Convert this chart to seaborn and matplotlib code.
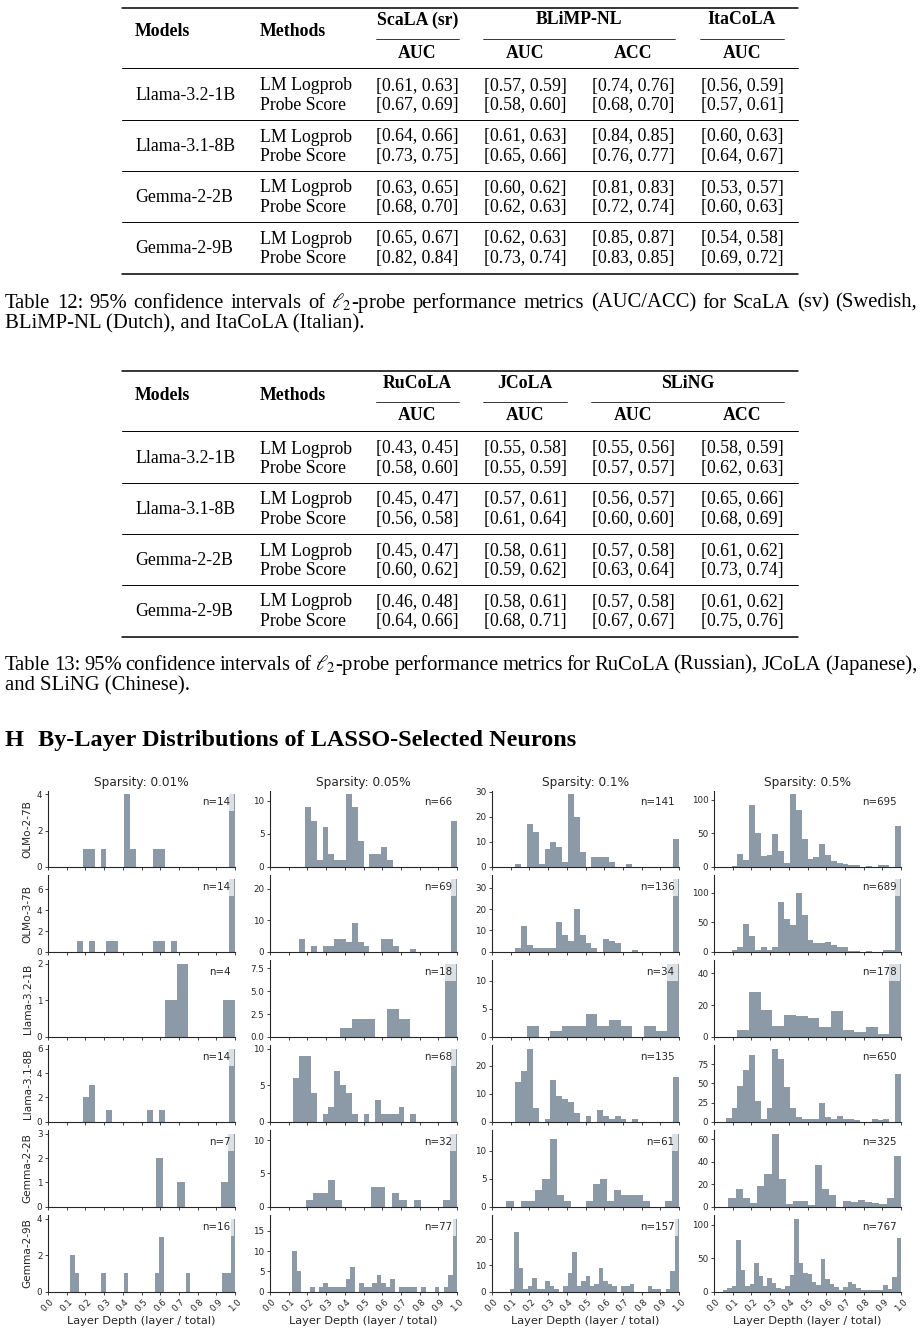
import numpy as np
import pandas as pd
import matplotlib
matplotlib.use("Agg")
import matplotlib.pyplot as plt
import seaborn as sns
from matplotlib.lines import Line2D
from matplotlib.ticker import MaxNLocator, MultipleLocator

# ---------------- Table 12 data ----------------
t_models = ["Llama-3.2-1B", "Llama-3.1-8B", "Gemma-2-2B", "Gemma-2-9B"]
t_methods = ["LM Logprob", "Probe Score"]
t12_datasets = ["ScaLA (sr)", "BLiMP-NL", "ItaCoLA"]
t12_metrics = ["AUC", "AUC", "ACC", "AUC"]
t12_logprob = [
    [(0.61, 0.63), (0.57, 0.59), (0.74, 0.76), (0.56, 0.59)],
    [(0.64, 0.66), (0.61, 0.63), (0.84, 0.85), (0.60, 0.63)],
    [(0.63, 0.65), (0.60, 0.62), (0.81, 0.83), (0.53, 0.57)],
    [(0.65, 0.67), (0.62, 0.63), (0.85, 0.87), (0.54, 0.58)],
]
t12_probe = [
    [(0.67, 0.69), (0.58, 0.60), (0.68, 0.70), (0.57, 0.61)],
    [(0.73, 0.75), (0.65, 0.66), (0.76, 0.77), (0.64, 0.67)],
    [(0.68, 0.70), (0.62, 0.63), (0.72, 0.74), (0.60, 0.63)],
    [(0.82, 0.84), (0.73, 0.74), (0.83, 0.85), (0.69, 0.72)],
]
t12_caption = ["Table 12: 95% confidence intervals of $\\ell_2$-probe performance metrics (AUC/ACC) for ScaLA (sv) (Swedish,",
               "BLiMP-NL (Dutch), and ItaCoLA (Italian)."]

# ---------------- Table 13 data ----------------
t13_datasets = ["RuCoLA", "JCoLA", "SLiNG"]
t13_metrics = ["AUC", "AUC", "AUC", "ACC"]
t13_logprob = [
    [(0.43, 0.45), (0.55, 0.58), (0.55, 0.56), (0.58, 0.59)],
    [(0.45, 0.47), (0.57, 0.61), (0.56, 0.57), (0.65, 0.66)],
    [(0.45, 0.47), (0.58, 0.61), (0.57, 0.58), (0.61, 0.62)],
    [(0.46, 0.48), (0.58, 0.61), (0.57, 0.58), (0.61, 0.62)],
]
t13_probe = [
    [(0.58, 0.60), (0.55, 0.59), (0.57, 0.57), (0.62, 0.63)],
    [(0.56, 0.58), (0.61, 0.64), (0.60, 0.60), (0.68, 0.69)],
    [(0.60, 0.62), (0.59, 0.62), (0.63, 0.64), (0.73, 0.74)],
    [(0.64, 0.66), (0.68, 0.71), (0.67, 0.67), (0.75, 0.76)],
]
t13_caption = ["Table 13: 95% confidence intervals of $\\ell_2$-probe performance metrics for RuCoLA (Russian), JCoLA (Japanese),",
               "and SLiNG (Chinese)."]

section_num = "H"
section_title = "By-Layer Distributions of LASSO-Selected Neurons"

# ---------------- Histogram data (counts per layer bin) ----------------
hist_models = ["OLMo-2-7B", "OLMo-3-7B", "Llama-3.2-1B", "Llama-3.1-8B", "Gemma-2-2B", "Gemma-2-9B"]
sparsity_labels = ["0.01%", "0.05%", "0.1%", "0.5%"]
x_label = "Layer Depth (layer / total)"

olmo2_7b = [
    [0,0,0,0,0,0,1,1,0,1,0,0,0,4,1,0,0,0,1,1,0,0,0,0,0,0,0,0,0,0,0,4],
    [0,0,0,0,0,0,9,7,1,6,2,1,1,11,9,4,0,2,2,3,1,0,0,0,0,0,0,0,0,0,0,7],
    [0,0,0,0,1,0,17,14,1,7,10,8,2,29,20,6,0,4,4,4,2,0,0,1,0,0,0,0,0,0,0,11],
    [0,0,0,2,19,10,92,51,16,18,49,24,6,108,85,41,12,15,34,18,9,6,5,3,3,0,2,0,3,3,0,61],
]
olmo3_7b = [
    [0,0,0,0,0,1,0,1,0,0,1,1,0,0,0,0,0,0,1,1,0,1,0,0,0,0,0,0,0,0,0,7],
    [0,0,0,0,0,4,0,2,0,2,2,4,4,3,9,3,2,0,0,4,4,2,0,0,1,0,0,0,0,0,0,23],
    [0,0,0,0,2,12,3,2,2,2,2,14,8,5,20,8,4,2,0,6,5,4,0,0,1,0,0,0,0,0,0,34],
    [0,0,0,4,8,47,27,4,8,4,8,85,56,46,100,63,20,15,15,16,11,8,8,2,2,0,2,0,0,3,4,123],
]
llama32_1b = [
    [0,0,0,0,0,0,0,0,0,0,1,2,0,0,0,1],
    [0,0,0,0,0,0,1,2,2,0,3,2,0,0,0,8],
    [0,0,0,2,0,1,2,2,4,2,3,2,0,2,1,13],
    [0,0,4,28,17,7,14,13,12,6,16,4,3,6,2,46],
]
llama31_8b = [
    [0,0,0,0,0,0,2,3,0,0,1,0,0,0,0,0,0,1,0,1,0,0,0,0,0,0,0,0,0,0,0,6],
    [0,0,0,0,6,9,9,4,0,1,2,7,5,4,1,0,1,0,3,1,1,1,2,0,1,0,0,0,0,0,0,10],
    [0,0,0,0,14,18,26,5,0,1,15,9,8,7,3,0,2,0,4,2,1,2,1,0,1,0,0,0,0,0,0,16],
    [0,0,5,18,47,68,87,27,3,18,95,82,45,18,6,3,4,3,25,6,3,8,3,3,2,0,0,3,2,4,0,62],
]
gemma2_2b = [
    [0,0,0,0,0,0,0,0,0,0,0,0,0,0,0,2,0,0,1,0,0,0,0,0,1,3],
    [0,0,0,0,0,1,2,2,4,1,0,0,0,0,3,3,0,2,1,0,1,0,0,0,1,11],
    [0,0,1,0,1,1,3,5,12,2,1,0,0,1,4,5,1,3,2,2,2,1,0,0,1,13],
    [0,0,8,16,8,3,18,29,65,25,2,5,5,1,37,16,10,0,5,4,6,4,3,2,8,45],
]
gemma2_9b = [
    [0,0,0,0,0,2,1,0,0,0,0,0,1,0,0,0,0,1,0,0,0,0,0,0,1,3,0,0,0,0,0,1,0,0,0,0,0,0,0,1,1,4],
    [0,0,0,0,0,10,5,0,0,1,0,1,2,1,1,1,1,3,6,0,2,1,1,2,4,2,1,3,0,1,1,1,1,0,1,0,0,1,0,1,4,18],
    [0,0,0,0,1,23,9,1,2,5,1,1,4,2,1,0,2,7,15,2,4,6,2,3,9,4,3,2,0,2,2,3,0,0,0,2,1,1,0,1,8,28],
    [0,0,2,5,8,77,32,8,11,42,23,8,20,12,5,3,8,25,109,42,28,26,14,10,48,19,11,6,2,7,14,11,5,2,2,2,2,2,10,4,22,80],
]
model_counts = [olmo2_7b, olmo3_7b, llama32_1b, llama31_8b, gemma2_2b, gemma2_9b]

# ---------------- Figure ----------------
W, H = 922, 1334
sns.set_style("ticks")
plt.rcParams["font.family"] = ["DejaVu Sans"]
plt.rcParams["mathtext.fontset"] = "stix"
fig = plt.figure(figsize=(W / 100, H / 100), dpi=100)

SERIF = ["Liberation Serif", "DejaVu Serif"]
FS = 12.8          # table text
CAP_FS = 14.9      # caption text
SEC_FS = 17.5      # section heading


def T(x, y, s, ha="left", bold=False, size=FS):
    return fig.text(x / W, 1 - y / H, s, ha=ha, va="center", fontsize=size,
                    family=SERIF, fontweight="bold" if bold else "normal", color="black")


def rule(x0, x1, y, lw):
    fig.add_artist(Line2D([x0 / W, x1 / W], [1 - y / H, 1 - y / H],
                          transform=fig.transFigure, color="black", lw=lw))


def justify(text, x0, x1, y, size):
    words = text.split(" ")
    r = fig.canvas.get_renderer()
    objs = [T(0, y, w, size=size) for w in words]
    widths = [o.get_window_extent(r).width for o in objs]
    gap = (x1 - x0 - sum(widths)) / (len(words) - 1)
    x = x0
    for o, w in zip(objs, widths):
        o.set_position((x / W, 1 - y / H))
        x += w + gap


def fmt(v):
    return f"[{v[0]:.2f}, {v[1]:.2f}]"


COLS = [417, 525, 633, 742]
TL, TR = 122, 798


def draw_table(y0, datasets, spans, metrics, logprob, probe):
    rule(TL, TR, y0, 1.1)
    for name, (a, b) in zip(datasets, spans):
        T((a + b) / 2, y0 + 12, name, ha="center", bold=True)
        rule(a, b, y0 + 31, 0.55)
    T(135, y0 + 24, "Models", bold=True)
    T(260, y0 + 24, "Methods", bold=True)
    for m, cx in zip(metrics, COLS):
        T(cx, y0 + 45, m, ha="center", bold=True)
    rule(TL, TR, y0 + 60, 0.7)
    for i, model in enumerate(t_models):
        ya = y0 + 78 + 51 * i
        T(135, ya + 9.75, model)
        T(260, ya, t_methods[0])
        T(260, ya + 19.5, t_methods[1])
        for j, cx in enumerate(COLS):
            T(cx, ya, fmt(logprob[i][j]), ha="center")
            T(cx, ya + 19.5, fmt(probe[i][j]), ha="center")
        if i < len(t_models) - 1:
            rule(TL, TR, ya + 34, 0.7)
    rule(TL, TR, y0 + 266, 1.1)


draw_table(8, t12_datasets, [(376, 459), (483, 675), (700, 784)], t12_metrics, t12_logprob, t12_probe)
justify(t12_caption[0], 5, 917, 303, CAP_FS)
T(5, 323.5, t12_caption[1], size=CAP_FS)

draw_table(371, t13_datasets, [(376, 459), (483, 567), (591, 784)], t13_metrics, t13_logprob, t13_probe)
justify(t13_caption[0], 5, 917, 665, CAP_FS)
T(5, 685.5, t13_caption[1], size=CAP_FS)

T(5, 741, section_num, bold=True, size=SEC_FS)
T(38, 741, section_title, bold=True, size=SEC_FS)

# ---------------- Histogram grid ----------------
AX_LEFT = [48, 270, 492, 714]
AX_W = 187
AX_TOP0 = 790.5
ROW_STEP = 84.9
AX_H = 76.5

for r, model in enumerate(hist_models):
    for c, sp in enumerate(sparsity_labels):
        top = AX_TOP0 + ROW_STEP * r
        ax = fig.add_axes([AX_LEFT[c] / W, 1 - (top + AX_H) / H, AX_W / W, AX_H / H])
        counts = np.asarray(model_counts[r][c])
        n_layers = len(counts)
        edges = np.linspace(0, 1, n_layers + 1)
        centers = (edges[:-1] + edges[1:]) / 2
        df = pd.DataFrame({"depth": centers, "count": counts})
        sns.histplot(data=df, x="depth", weights="count", bins=edges.tolist(), ax=ax,
                     color="slategray", alpha=0.8, linewidth=0)
        ax.set_xlim(0, 1)
        ax.xaxis.set_major_locator(MultipleLocator(0.1))
        ax.yaxis.set_major_locator(MaxNLocator(nbins=4, steps=[1, 2, 2.5, 5, 10]))
        sns.despine(ax=ax)
        for s in ["left", "bottom"]:
            ax.spines[s].set_linewidth(0.8)
        ax.tick_params(labelsize=6.3, length=2.5, width=0.6, pad=1.5)
        ax.set_ylabel(model if c == 0 else "", fontsize=7.6, labelpad=3)
        if r == len(hist_models) - 1:
            ax.tick_params(axis="x", labelrotation=45)
            ax.set_xlabel(x_label, fontsize=8.2, labelpad=2)
        else:
            ax.tick_params(axis="x", labelbottom=False)
            ax.set_xlabel("")
        if r == 0:
            ax.set_title(f"Sparsity: {sp}", fontsize=8.7, pad=3)
        ax.text(0.975, 0.91, f"n={int(counts.sum())}", transform=ax.transAxes,
                ha="right", va="top", fontsize=7.4,
                bbox=dict(boxstyle="square,pad=0.4", facecolor="white", edgecolor="none", alpha=0.7))

fig.savefig("out.png", dpi=100, facecolor="white")
